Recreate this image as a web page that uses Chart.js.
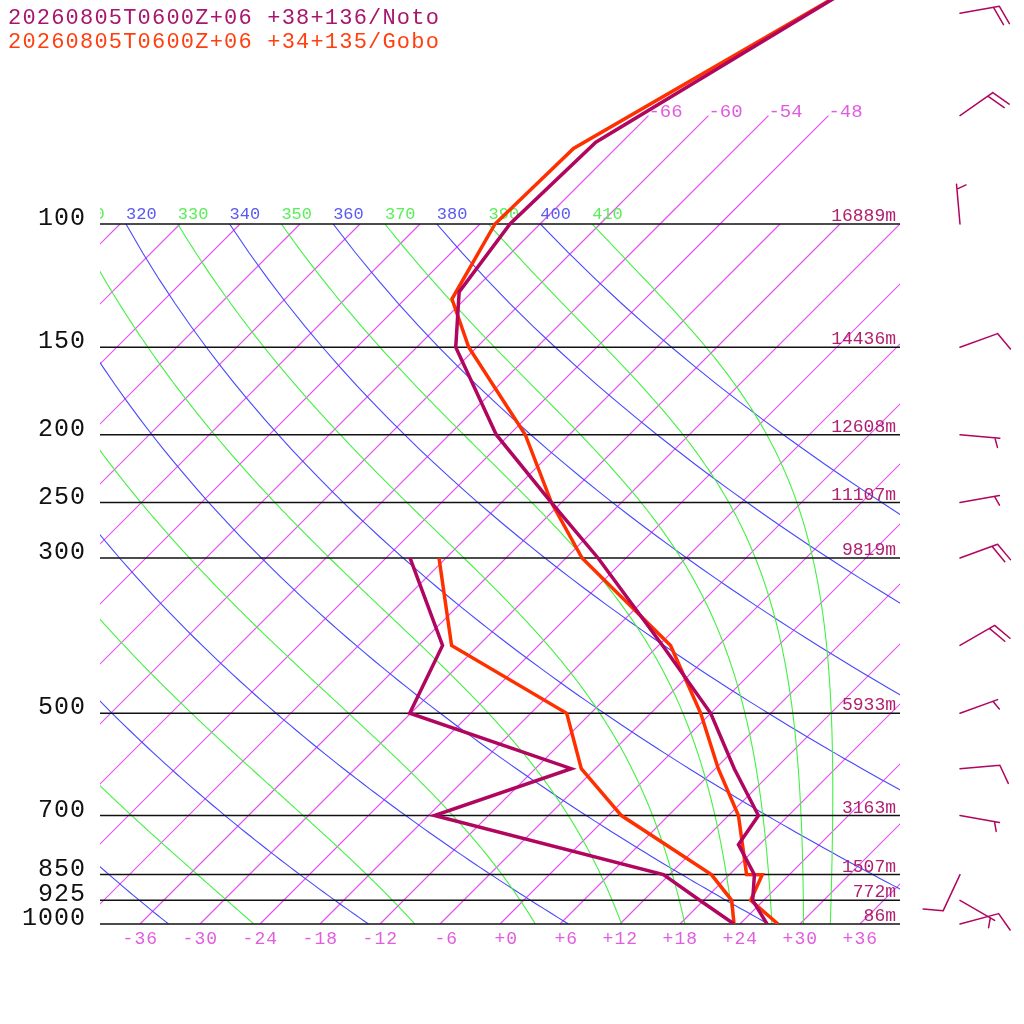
<!DOCTYPE html>
<html>
<head>
<meta charset="utf-8">
<script src="https://cdn.jsdelivr.net/npm/chart.js@4.4.1/dist/chart.umd.min.js"></script>
<style>
html, body { margin: 0; padding: 0; background: #fff; }
canvas { display: block; }
</style>
</head>
<body>
<canvas id="skewt" width="1024" height="1024"></canvas>
<script>
// soundings (hPa, degC)
const notoP  = [40, 76.4, 100, 125, 150, 200, 250, 300, 400, 500, 600, 700, 770, 850, 925, 1000];
const notoT  = [-55.7, -68.6, -69.0, -67.3, -62.1, -49.3, -37.0, -26.8, -11.6, 0.0, 7.9, 15.0, 15.9, 20.5, 22.9, 26.7];
const notoDP = [300, 400, 500, 600, 700, 850, 925, 1000];
const notoTd = [-45.6, -33.6, -30.1, -8.4, -17.4, 11.4, 17.6, 23.4];

const goboP  = [40, 78, 100, 128, 150, 200, 250, 300, 400, 500, 600, 700, 849.5, 850.5, 925, 1000];
const goboT  = [-55.4, -70.2, -70.5, -67.3, -60.8, -46.4, -37.0, -28.4, -10.8, -1.0, 6.3, 13.0, 19.7, 21.3, 22.7, 27.8];
const goboDP = [300, 400, 500, 600, 700, 850, 925, 1000];
const goboTd = [-42.7, -32.7, -14.4, -7.4, 1.3, 16.2, 20.8, 23.4];

// winds at Noto (deg, kt)
const windP   = [1000, 925, 850, 700, 600, 500, 400, 300, 250, 200, 150, 100, 70, 50];
const windDir = [75, 120, 205, 100, 85, 70, 60, 70, 80, 95, 70, 355, 55, 80];
const windSpd = [10, 5, 10, 5, 10, 5, 20, 20, 5, 5, 10, 5, 20, 20];

// mandatory levels and their heights
const levels  = [100, 150, 200, 250, 300, 500, 700, 850, 925, 1000];
const heights = ["16889m", "14436m", "12608m", "11107m", "9819m", "5933m", "3163m", "1507m", "772m", "86m"];

// axis labels
const tempLabels  = [-36, -30, -24, -18, -12, -6, 0, 6, 12, 18, 24, 30, 36];
const upperIsos   = [-66, -60, -54, -48];
const dryThetas   = [240, 260, 280, 300, 320, 340, 360, 380, 400];
const moistThetas = [250, 270, 290, 310, 330, 350, 370, 390, 410];

const titles = [
    { text: "20260805T0600Z+06 +38+136/Noto", color: "#a8156e" },
    { text: "20260805T0600Z+06 +34+135/Gobo", color: "#ff3f10" },
];
const notoColor = "#b0065f";
const goboColor = "#ff3000";
const isoColor = "rgb(228, 82, 238)";

const SKEW = 70;
const skew = (t, p) => t + SKEW * Math.log10(1000 / p);
const pts = (ps, ts) => ps.map((p, i) => ({ x: skew(ts[i], p), y: p }));

// --- thermodynamics for the background lines
const KAPPA = 0.2857;
function satMix(p, tk) {
    const tc = tk - 273.15;
    const es = 6.112 * Math.exp(17.67 * tc / (tc + 243.5));
    return 0.622 * es / (p - es);
}
function moistRate(p, tk) {
    const rs = satMix(p, tk);
    const Rd = 287.04, cp = 1005.7, L = 2.501e6, eps = 0.622;
    return (Rd * tk + L * rs) / (cp + L * L * rs * eps / (Rd * tk * tk)) / p;
}
// pseudo-adiabat started at 100 hPa from the dry value of its label
function moistLine(th) {
    let p = 100, tk = th * Math.pow(p / 1000, KAPPA);
    const out = [[tk - 273.15, p]];
    const h = 2;
    while (p < 999.99) {
        const k1 = moistRate(p, tk);
        const k2 = moistRate(p + h / 2, tk + h / 2 * k1);
        const k3 = moistRate(p + h / 2, tk + h / 2 * k2);
        const k4 = moistRate(p + h, tk + h * k3);
        tk += h / 6 * (k1 + 2 * k2 + 2 * k3 + k4);
        p += h;
        out.push([tk - 273.15, p]);
    }
    return out;
}
function dryLine(th) {
    const out = [];
    for (let p = 100; p <= 1000; p += 10) out.push([th * Math.pow(p / 1000, KAPPA) - 273.15, p]);
    return out;
}
const dryLines = dryThetas.map(dryLine);
const moistLines = moistThetas.map(moistLine);

const MONO = '"Liberation Mono", "DejaVu Sans Mono", monospace';

const background = {
    id: "skewtBackground",
    beforeDatasetsDraw(chart) {
        const { ctx, scales: { x, y } } = chart;
        const px = (t, p) => x.getPixelForValue(skew(t, p));
        const py = (p) => y.getPixelForValue(p);
        const left = x.getPixelForValue(-40), right = x.getPixelForValue(40);
        const top = py(100), bottom = py(1000);

        const drawCurve = (line, color, w) => {
            ctx.strokeStyle = color;
            ctx.lineWidth = w;
            ctx.beginPath();
            line.forEach(([t, p], i) => i ? ctx.lineTo(px(t, p), py(p)) : ctx.moveTo(px(t, p), py(p)));
            ctx.stroke();
        };

        ctx.save();
        ctx.beginPath();
        ctx.rect(left, top, right - left, bottom - top);
        ctx.clip();
        // isotherms every 6 degrees
        for (let t = -108; t <= 36; t += 6) {
            drawCurve([[t, 1000], [t, 100]], isoColor, 1.2);
        }
        dryLines.forEach((l) => drawCurve(l, "#4848ff", 1.1));
        moistLines.forEach((l) => drawCurve(l, "#44f044", 1.1));
        ctx.restore();

        // isotherms above 100 hPa
        ctx.save();
        upperIsos.forEach((t) => drawCurve([[t, 100], [t, 70]], isoColor, 1.2));
        ctx.font = "19px " + MONO;
        ctx.fillStyle = "#e05ce0";
        ctx.textAlign = "left";
        ctx.textBaseline = "alphabetic";
        upperIsos.forEach((t) => ctx.fillText(String(t), px(t, 70), py(70) + 1));
        ctx.restore();

        // adiabat labels on top of the 100 hPa line
        ctx.save();
        ctx.beginPath();
        ctx.rect(left, 0, right - left, bottom);
        ctx.clip();
        ctx.font = "17px " + MONO;
        ctx.textAlign = "left";
        ctx.textBaseline = "alphabetic";
        dryThetas.forEach((th, i) => {
            const [t, p] = dryLines[i][0];
            ctx.fillStyle = "#5a5af0";
            ctx.fillText(String(th), px(t, p), py(100) - 5);
        });
        moistThetas.forEach((th, i) => {
            const [t, p] = moistLines[i][0];
            ctx.fillStyle = "#5aee5a";
            ctx.fillText(String(th), px(t, p), py(100) - 5);
        });
        ctx.restore();

        // mandatory pressure levels
        ctx.save();
        ctx.strokeStyle = "#111";
        ctx.lineWidth = 1.5;
        levels.forEach((p) => {
            ctx.beginPath();
            ctx.moveTo(left, py(p));
            ctx.lineTo(right, py(p));
            ctx.stroke();
        });
        ctx.textBaseline = "alphabetic";
        ctx.font = "25px " + MONO;
        ctx.fillStyle = "#111";
        ctx.textAlign = "right";
        ctx.letterSpacing = "1px";
        levels.forEach((p) => ctx.fillText(String(p), 86, py(p) + 1));
        ctx.letterSpacing = "0px";
        ctx.font = "18px " + MONO;
        ctx.fillStyle = "#b0206e";
        levels.forEach((p, i) => ctx.fillText(heights[i], right - 4, py(p) - 3));

        // temperature labels along the bottom
        ctx.font = "18px " + MONO;
        ctx.fillStyle = "#e05ce0";
        ctx.letterSpacing = "1px";
        tempLabels.forEach((t) => {
            const s = t >= 0 ? "+" + t : String(t);
            ctx.fillText(s, px(t, 1000) + 18, py(1000) + 20);
        });
        ctx.restore();
    },
    afterDraw(chart) {
        const { ctx, scales: { y } } = chart;
        // wind barbs
        ctx.save();
        ctx.strokeStyle = notoColor;
        ctx.lineWidth = 1.5;
        ctx.lineCap = "round";
        const rot = 70 * Math.PI / 180;
        windP.forEach((p, i) => {
            const x0 = 960, y0 = y.getPixelForValue(p);
            const a = windDir[i] * Math.PI / 180;
            const ux = Math.sin(a), uy = -Math.cos(a);
            const ex = x0 + 40 * ux, ey = y0 + 40 * uy;
            const vx = ux * Math.cos(rot) - uy * Math.sin(rot);
            const vy = ux * Math.sin(rot) + uy * Math.cos(rot);
            ctx.beginPath();
            ctx.moveTo(x0, y0);
            ctx.lineTo(ex, ey);
            const n10 = Math.floor(windSpd[i] / 10);
            const n5 = Math.round((windSpd[i] % 10) / 5);
            let pos = n10 === 0 ? 5 : 0;
            for (let k = 0; k < n10; k++) {
                const bx = ex - pos * ux, by = ey - pos * uy;
                ctx.moveTo(bx, by);
                ctx.lineTo(bx + 20 * vx, by + 20 * vy);
                pos += 6;
            }
            for (let k = 0; k < n5; k++) {
                const bx = ex - pos * ux, by = ey - pos * uy;
                ctx.moveTo(bx, by);
                ctx.lineTo(bx + 10 * vx, by + 10 * vy);
                pos += 6;
            }
            ctx.stroke();
        });

        // station titles
        ctx.font = "22px " + MONO;
        ctx.textAlign = "left";
        ctx.textBaseline = "alphabetic";
        ctx.letterSpacing = "1.2px";
        titles.forEach((t, i) => {
            ctx.fillStyle = t.color;
            ctx.fillText(t.text, 8, 24 + i * 24);
        });
        ctx.restore();
    },
};

const profile = (data, color) => ({
    data,
    borderColor: color,
    backgroundColor: color,
    borderWidth: 3.5,
    pointRadius: 0,
    tension: 0,
    fill: false,
    borderJoinStyle: "miter",
});

new Chart(document.getElementById("skewt"), {
    type: "line",
    data: {
        datasets: [
            profile(pts(notoP, notoT), notoColor),
            profile(pts(goboP, goboT), goboColor),
            profile(pts(notoDP, notoTd), notoColor),
            profile(pts(goboDP, goboTd), goboColor),
        ],
    },
    options: {
        responsive: false,
        devicePixelRatio: 1,
        animation: false,
        events: [],
        layout: { padding: { left: 100, right: 124, top: 0, bottom: 100 } },
        plugins: { legend: { display: false }, tooltip: { enabled: false } },
        scales: {
            x: { type: "linear", min: -40, max: 40, display: false },
            y: { type: "logarithmic", min: 1000 / Math.pow(10, 924 / 700), max: 1000, reverse: true, display: false },
        },
    },
    plugins: [background],
});
</script>
</body>
</html>
